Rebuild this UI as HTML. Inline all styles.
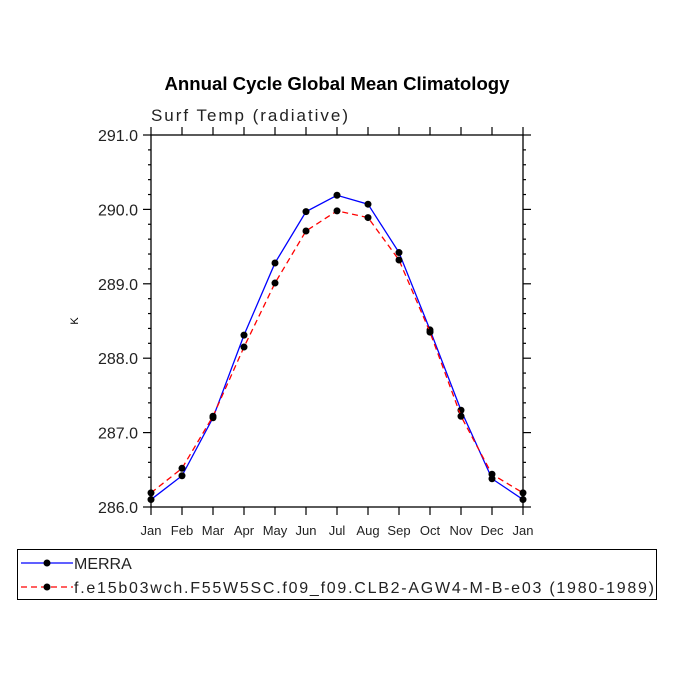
<!DOCTYPE html>
<html><head><meta charset="utf-8"><style>
body{margin:0;background:#fff}
svg text{font-family:"Liberation Sans",sans-serif}
</style></head><body>
<svg id="c" width="675" height="675" viewBox="0 0 675 675">
<rect width="675" height="675" fill="#fff"/>
<text x="337" y="90" text-anchor="middle" font-size="18" font-weight="bold" textLength="345" lengthAdjust="spacingAndGlyphs">Annual Cycle Global Mean Climatology</text>
<text x="151" y="121" font-size="17" fill="#222" textLength="197">Surf Temp (radiative)</text>
<text x="78" y="321" font-size="11" transform="rotate(-90 78 321)" text-anchor="middle">K</text>
<g id="axes"></g>
<g id="series"></g>
<rect x="17.5" y="549.5" width="639" height="50" fill="none" stroke="#000"/>
<g>
<line x1="21" y1="563" x2="73" y2="563" stroke="#0000ff" stroke-width="1.3"/><circle cx="47" cy="563" r="3.5"/>
<text x="74" y="569" font-size="16" fill="#222">MERRA</text></g>
<g>
<line x1="21" y1="587" x2="73" y2="587" stroke="#ff0000" stroke-width="1.3" stroke-dasharray="6,4"/><circle cx="47" cy="587" r="3.5"/>
<text x="74" y="593" font-size="16" fill="#222" textLength="580">f.e15b03wch.F55W5SC.f09_f09.CLB2-AGW4-M-B-e03 (1980-1989)</text></g>
</svg>
<script>
const months=["Jan","Feb","Mar","Apr","May","Jun","Jul","Aug","Sep","Oct","Nov","Dec","Jan"];
const yTicks=[286,287,288,289,290,291];
const merra=[286.10,286.42,287.20,288.31,289.28,289.97,290.19,290.07,289.42,288.38,287.30,286.38,286.10];
const model=[286.19,286.52,287.22,288.15,289.01,289.71,289.98,289.89,289.32,288.35,287.22,286.44,286.19];
const L=151,R=523,T=135,B=507,ymin=286,ymax=291;
const xs=i=>L+(R-L)*i/(months.length-1);
const ys=v=>B-(v-ymin)/(ymax-ymin)*(B-T);
const NS="http://www.w3.org/2000/svg";
function mk(t,a,p){const e=document.createElementNS(NS,t);for(const k in a)e.setAttribute(k,a[k]);p.appendChild(e);return e;}
const ax=document.getElementById('axes');
const frame=mk('rect',{x:L,y:T,width:R-L,height:B-T,fill:'none',stroke:'#000','stroke-width':1.3},ax);


months.forEach((m,i)=>{const x=xs(i);
mk('line',{x1:x,y1:B,x2:x,y2:B+8,stroke:'#000','stroke-width':1.2},ax);
mk('line',{x1:x,y1:T,x2:x,y2:T-8,stroke:'#000','stroke-width':1.2},ax);
const t=mk('text',{x:x,y:B+28,'text-anchor':'middle','font-size':13,fill:'#222'},ax);t.textContent=m;

});
for(let v=ymin;v<=ymax+1e-9;v+=0.2){const y=ys(v);const maj=Math.abs(v-Math.round(v))<1e-6;const len=maj?8:3;
mk('line',{x1:L,y1:y,x2:L-len,y2:y,stroke:'#000','stroke-width':1.2},ax);
mk('line',{x1:R,y1:y,x2:R+len,y2:y,stroke:'#000','stroke-width':1.2},ax);}
yTicks.forEach(v=>{const t=mk('text',{x:L-13,y:ys(v)+6,'text-anchor':'end','font-size':16,fill:'#222'},ax);t.textContent=v.toFixed(1);

});
const sg=document.getElementById('series');
function draw(d,col,dash,name){const g=mk('g',{},sg);


mk('polyline',{points:d.map((v,i)=>xs(i)+','+ys(v)).join(' '),fill:'none',stroke:col,'stroke-width':1.3,'stroke-dasharray':dash},g);
d.forEach((v,i)=>{const c=mk('circle',{cx:xs(i),cy:ys(v),r:3.5,fill:'#000'},g);

});}
draw(merra,'#0000ff','none','series-merra');
draw(model,'#ff0000','6,4','series-model');
</script>
</body></html>
